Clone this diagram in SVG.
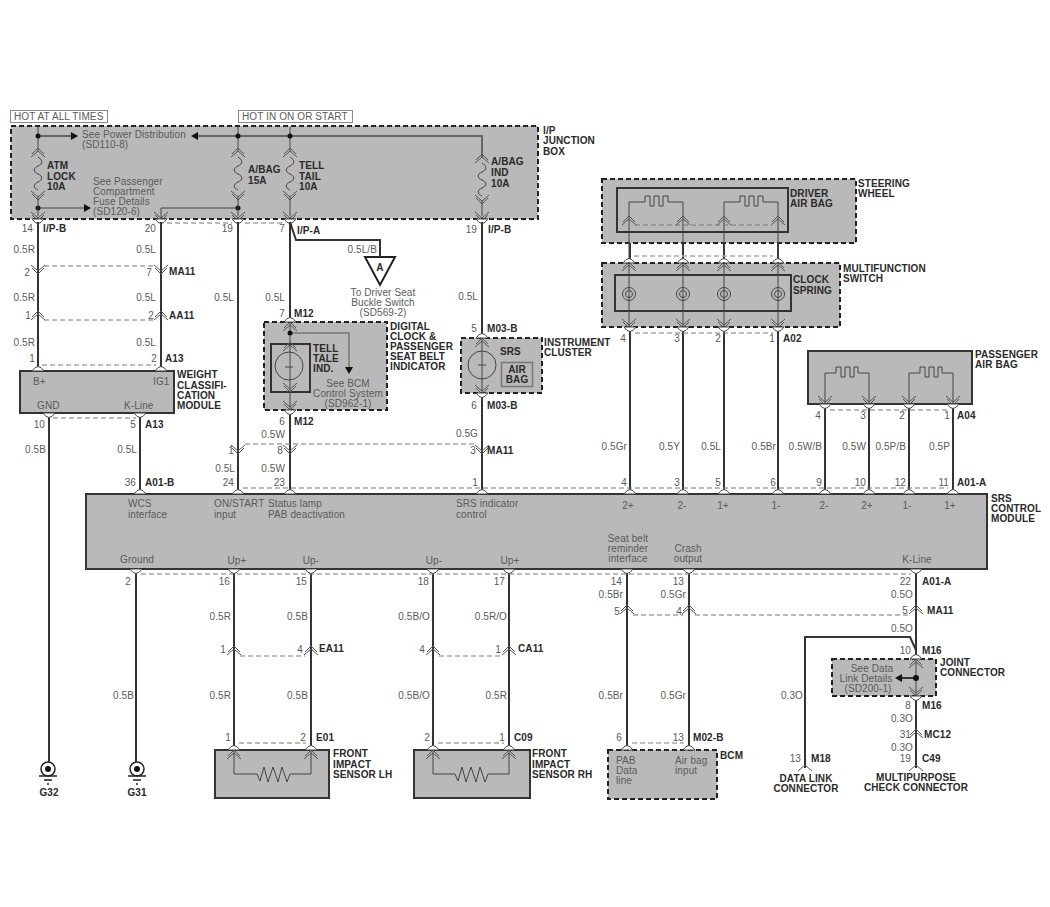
<svg xmlns="http://www.w3.org/2000/svg" width="1050" height="907" viewBox="0 0 1050 907">
<style>
text{font-family:"Liberation Sans",Arial,sans-serif;font-size:10px;fill:#5a5a5a;letter-spacing:.1px}
.b{font-weight:bold;fill:#2a2a2a}
.r{text-anchor:end}
.c{text-anchor:middle}
.box{fill:#b9b9b9;stroke:#333;stroke-width:2}
.dbox{fill:#b9b9b9;stroke:#222;stroke-width:2;stroke-dasharray:5 3}
.inner{fill:none;stroke:#333;stroke-width:2}
.w{fill:none;stroke:#333;stroke-width:2}
.th{fill:none;stroke:#444;stroke-width:1}
.g{fill:none;stroke:#777;stroke-width:1.5}
.bus{fill:none;stroke:#666;stroke-width:2}
.d{fill:none;stroke:#777;stroke-width:1;stroke-dasharray:5 3}
.d2{fill:none;stroke:#aaa;stroke-width:1.5;stroke-dasharray:5 3}
.ch{fill:none;stroke:#555;stroke-width:1}
.tri{fill:#fff;stroke:#444;stroke-width:1}
.dot{fill:#111}
</style>
<defs>
<g id="cd"><path class="ch" d="M-7,-5 L0,1 L7,-5"/><path class="ch" d="M-6,-2 L0,4 L6,-2"/></g>
<g id="cu"><path class="ch" d="M-7,5 L0,-1 L7,5"/><path class="ch" d="M-6,2 L0,-4 L6,2"/></g>
<path id="tu" class="tri" d="M-6,0 Q0,-9 6,0 Z"/>
<path id="td" class="tri" d="M-6,0 Q0,9 6,0 Z"/>
<path id="fuse" class="th" d="M0,0 C5,3 5,7 0,9 C-5,11 -5,15 0,17 C5,19 5,23 0,25 C-5,27 -5,31 0,33"/>
<path id="sq1" class="th" d="M0,0 H16 V-6 H21 V4 H25 V-6 H30 V4 H34 V-6 H39 V0 H54"/>
<path id="sq2" class="th" d="M0,0 H11 V-6 H16 V4 H20 V-6 H25 V4 H29 V-6 H33 V0 H44"/>
<g id="sp"><circle class="th" r="6.5"/><circle class="th" r="3.5"/></g>
<path id="res" class="th" d="M0,0 L3,7 L7,-7 L11,8 L16,-7 L21,8 L25,-7 L30,8 L33,0"/>
<g id="gnd"><circle r="7" fill="#fff" stroke="#222" stroke-width="1.5"/><circle r="3" fill="#111"/><path fill="none" stroke="#222" stroke-width="1.5" d="M-9,7 H9 M-4,11 H4 M-1,15 H1"/></g>
<path id="al" fill="#111" d="M0,0 L7,-4 L7,4 Z"/>
<path id="ar" fill="#111" d="M0,0 L-7,-4 L-7,4 Z"/>
</defs>

<g id="hot-at-all-times"><rect x="10.5" y="110.5" width="97" height="12" fill="#fff" stroke="#888"/><text x="14" y="120">HOT AT ALL TIMES</text></g>
<g id="hot-in-on-or-start"><rect x="238.500" y="110.500" width="114" height="12" fill="#fff" stroke="#888"/><text x="242" y="120">HOT IN ON OR START</text></g>

<g id="ip-junction-box">
<rect class="dbox" x="11" y="126" width="527" height="93"/>
<text x="82" y="137.500">See Power Distribution</text><text x="82" y="148">(SD110-8)</text>
<text x="93" y="184.500">See Passenger</text><text x="93" y="194.500">Compartment</text><text x="93" y="204.500">Fuse Details</text><text x="93" y="214.500">(SD120-6)</text>
<text class="b" x="47" y="169">ATM</text><text class="b" x="47" y="180">LOCK</text><text class="b" x="47" y="190">10A</text>
<text class="b" x="248" y="173">A/BAG</text><text class="b" x="248" y="183.500">15A</text>
<text class="b" x="299" y="169">TELL</text><text class="b" x="299" y="180">TAIL</text><text class="b" x="299" y="190">10A</text>
<text class="b" x="491" y="165">A/BAG</text><text class="b" x="491" y="176">IND</text><text class="b" x="491" y="187">10A</text>
<text class="b" x="543" y="133.500">I/P</text><text class="b" x="543" y="144">JUNCTION</text><text class="b" x="543" y="154.500">BOX</text>
</g>

<g id="weight-classification-module">
<rect class="box" x="20" y="371" width="154" height="42"/>
<text x="33" y="384.500">B+</text><text x="153" y="384.500">IG1</text><text x="37" y="409">GND</text><text x="124" y="409">K-Line</text>
<text class="b" x="177" y="377.500">WEIGHT</text><text class="b" x="177" y="388.500">CLASSIFI-</text><text class="b" x="177" y="398.500">CATION</text><text class="b" x="177" y="408.500">MODULE</text>
</g>

<g id="digital-clock">
<rect class="dbox" x="264" y="322" width="123" height="88"/>
<rect class="inner" x="271" y="344" width="39" height="48"/>
<circle class="th" cx="289" cy="366" r="14"/>
<path class="th" d="M285,367 H293"/>
<text class="b" x="313" y="351.500">TELL</text><text class="b" x="313" y="361.500">TALE</text><text class="b" x="313" y="371.500">IND.</text>
<text class="c" x="348" y="386.500">See BCM</text><text class="c" x="348" y="396.500">Control System</text><text class="c" x="348" y="406.500">(SD962-1)</text>
<text class="b" x="390" y="329.500">DIGITAL</text><text class="b" x="390" y="339.500">CLOCK &amp;</text><text class="b" x="390" y="350">PASSENGER</text><text class="b" x="390" y="360">SEAT BELT</text><text class="b" x="390" y="370">INDICATOR</text>
</g>

<g id="instrument-cluster">
<rect class="dbox" x="461" y="338" width="81" height="55"/>
<circle class="th" cx="482" cy="365" r="14"/>
<path class="th" d="M478,365 H486"/>
<text class="b" x="500" y="355">SRS</text>
<rect x="501.500" y="362.500" width="31" height="24" fill="none" stroke="#777" stroke-width="1.500"/>
<text class="b c" x="517" y="373">AIR</text><text class="b c" x="517" y="383">BAG</text>
<text class="b" x="544" y="345.500">INSTRUMENT</text><text class="b" x="544" y="355.500">CLUSTER</text>
</g>

<g id="steering-wheel">
<rect class="dbox" x="602" y="179" width="254" height="64"/>
<rect class="inner" x="617" y="188" width="171" height="44"/>
<use href="#sq1" x="629" y="202"/><use href="#sq1" x="724" y="202"/>
<text class="b" x="790" y="196.500">DRIVER</text><text class="b" x="790" y="206.500">AIR BAG</text>
<text class="b" x="858" y="186.500">STEERING</text><text class="b" x="858" y="196.500">WHEEL</text>
</g>

<g id="multifunction-switch">
<rect class="dbox" x="602" y="263" width="238" height="64"/>
<rect class="inner" x="615" y="275" width="176" height="36"/>
<use href="#sp" x="629" y="294"/><use href="#sp" x="683" y="294"/><use href="#sp" x="724" y="294"/><use href="#sp" x="778" y="294"/>
<text class="b" x="793" y="282.500">CLOCK</text><text class="b" x="793" y="293.500">SPRING</text>
<text class="b" x="843" y="271.500">MULTIFUNCTION</text><text class="b" x="843" y="281.500">SWITCH</text>
</g>

<g id="passenger-air-bag">
<rect class="box" x="808" y="351" width="164" height="53"/>
<use href="#sq2" x="825" y="373"/><use href="#sq2" x="909" y="373"/>
<text class="b" x="975" y="357.500">PASSENGER</text><text class="b" x="975" y="367.500">AIR BAG</text>
</g>

<g id="srs-control-module">
<rect class="box" x="86" y="494" width="901" height="75"/>
<text x="128" y="507">WCS</text><text x="128" y="517.500">interface</text>
<text x="214" y="507">ON/START</text><text x="214" y="517.500">input</text>
<text x="268" y="507">Status lamp</text><text x="268" y="517.500">PAB deactivation</text>
<text x="456" y="507">SRS indicator</text><text x="456" y="517.500">control</text>
<text class="c" x="628" y="508.500">2+</text><text class="c" x="682" y="508.500">2-</text><text class="c" x="723" y="508.500">1+</text><text class="c" x="776" y="508.500">1-</text><text class="c" x="824" y="508.500">2-</text><text class="c" x="867" y="508.500">2+</text><text class="c" x="907" y="508.500">1-</text><text class="c" x="950" y="508.500">1+</text>
<text class="c" x="137" y="562.500">Ground</text><text class="c" x="237" y="564">Up+</text><text class="c" x="311" y="564">Up-</text><text class="c" x="434" y="564">Up-</text><text class="c" x="510" y="564">Up+</text>
<text class="c" x="628" y="541.500">Seat belt</text><text class="c" x="628" y="552">reminder</text><text class="c" x="628" y="562">interface</text>
<text class="c" x="688" y="552">Crash</text><text class="c" x="688" y="562">output</text>
<text class="c" x="917" y="562.500">K-Line</text>
<text class="b" x="991" y="501.500">SRS</text><text class="b" x="991" y="512">CONTROL</text><text class="b" x="991" y="522">MODULE</text>
</g>

<g id="front-impact-sensor-lh">
<rect class="box" x="215" y="750" width="114" height="48"/>
<use href="#res" x="257" y="774"/>
<text class="b" x="333" y="757">FRONT</text><text class="b" x="333" y="767.500">IMPACT</text><text class="b" x="333" y="778">SENSOR LH</text>
</g>
<g id="front-impact-sensor-rh">
<rect class="box" x="414" y="750" width="116" height="48"/>
<use href="#res" x="455" y="774"/>
<text class="b" x="532" y="757">FRONT</text><text class="b" x="532" y="767.500">IMPACT</text><text class="b" x="532" y="778">SENSOR RH</text>
</g>
<g id="bcm">
<rect class="dbox" x="608" y="750" width="109" height="49"/>
<text x="616" y="763.500">PAB</text><text x="616" y="774">Data</text><text x="616" y="784">line</text>
<text x="675" y="763.500">Air bag</text><text x="675" y="774">input</text>
<text class="b" x="720" y="758.500">BCM</text>
</g>
<g id="joint-connector">
<rect class="dbox" x="832" y="659" width="104" height="37"/>
<text class="c" x="872" y="671.500">See Data</text><text class="c" x="866" y="681.500">Link Details</text><text class="c" x="868" y="692">(SD200-1)</text>
<text class="b" x="940" y="665.500">JOINT</text><text class="b" x="940" y="675.500">CONNECTOR</text>
</g>
<g id="buckle-switch-ref">
<path d="M365,257 H395 L380,285 Z" fill="#fff" stroke="#222" stroke-width="2"/>
<text class="b c" x="380" y="271">A</text>
<text class="c" x="383" y="296">To Driver Seat</text><text class="c" x="383" y="306">Buckle Switch</text><text class="c" x="383" y="316">(SD569-2)</text>
</g>
<g id="ground-g32"><use href="#gnd" x="48" y="769"/><text class="b c" x="49" y="795.500">G32</text></g>
<g id="ground-g31"><use href="#gnd" x="137" y="769"/><text class="b c" x="137" y="795.500">G31</text></g>
<g id="data-link-connector"><text class="b c" x="806" y="781.500">DATA LINK</text><text class="b c" x="806" y="791.500">CONNECTOR</text></g>
<g id="multipurpose-check-connector"><text class="b c" x="916" y="780.500">MULTIPURPOSE</text><text class="b c" x="916" y="790.500">CHECK CONNECTOR</text></g>

<g id="connectors">
<path class="bus" d="M38,136 H72 M198,136 H482 V157"/>
<path class="th" d="M38,127 V152 M238,127 V152 M290,127 V152"/>
<path class="th" d="M38,208 H84 M238,208 H161 V219"/>
<use href="#ar" x="78" y="136"/><use href="#al" x="191" y="136"/><use href="#ar" x="91" y="208"/>
<circle class="dot" cx="38" cy="136" r="2.500"/><circle class="dot" cx="238" cy="136" r="2.500"/><circle class="dot" cx="290" cy="136" r="2.500"/>
<circle class="dot" cx="38" cy="208" r="2.500"/><circle class="dot" cx="238" cy="208" r="2.500"/>
<use href="#cu" x="38" y="152"/><use href="#cu" x="238" y="152"/><use href="#cu" x="290" y="152"/><use href="#cu" x="482" y="158"/>
<use href="#fuse" x="38" y="157"/><use href="#fuse" x="238" y="157"/><use href="#fuse" x="290" y="157"/><use href="#fuse" x="482" y="163"/>
<use href="#cd" x="38" y="196"/><use href="#cd" x="238" y="196"/><use href="#cd" x="290" y="196"/><use href="#cd" x="482" y="200"/>
<path class="th" d="M38,196 V216 M238,196 V216 M290,196 V216 M482,200 V216"/>
<use href="#cd" x="38" y="217"/><use href="#cd" x="161" y="217"/><use href="#cd" x="238" y="217"/><use href="#cd" x="290" y="217"/><use href="#cd" x="482" y="217"/>
<use href="#td" x="38" y="219"/><use href="#td" x="161" y="219"/><use href="#td" x="238" y="219"/><use href="#td" x="290" y="219"/><use href="#td" x="482" y="219"/>
<path class="d" d="M167,223 H232 M245,223 H284"/>

<path class="w" d="M38,222 V371 M161,222 V371 M238,222 V494 M290,222 V322 M290,410 V494 M482,222 V338 M482,393 V494"/>
<path class="w" d="M49,413 V762 M140,413 V494 M136,569 V762 M234,569 V750 M311,569 V750 M433,569 V750 M509,569 V750 M627,569 V750 M689,569 V750 M916,569 V659 M916,696 V768 M805,768 V637 H910 L916,650"/>
<path class="w" d="M630,243 V263 M683,243 V263 M724,243 V263 M778,243 V263 M630,327 V494 M683,327 V494 M724,327 V494 M778,327 V494 M825,404 V494 M869,404 V494 M909,404 V494 M953,404 V494"/>
<path class="w" d="M290,222 L296,240 H380 V257"/>
<path class="th" d="M629,202 V263 M683,202 V263 M724,202 V263 M778,202 V263 M629,263 V327 M683,263 V327 M724,263 V327 M778,263 V327"/>
<path class="th" d="M825,373 V404 M869,373 V404 M909,373 V404 M953,373 V404"/>
<path class="th" d="M234,750 V774 H257 M311,750 V774 H290 M433,750 V774 H455 M509,750 V774 H488"/>
<path class="th" d="M290,322 V410 M482,338 V393 M916,659 V696"/>
<path class="g" d="M290,333 H349 V369"/>
<path fill="#111" d="M345,367 H353 L349,374 Z"/>
<circle class="dot" cx="290" cy="333" r="2.500"/>
<use href="#al" x="895" y="678"/><path class="w" d="M902,678 H916"/><circle class="dot" cx="916" cy="678" r="3"/>

<use href="#cd" x="38" y="270"/><use href="#cd" x="161" y="270"/><path class="d" d="M44,266 H155"/>
<use href="#cu" x="38" y="315"/><use href="#cu" x="161" y="315"/><path class="d" d="M44,320 H155"/>
<use href="#tu" x="38" y="371"/><use href="#tu" x="161" y="371"/><path class="d" d="M42,365 H156"/>
<use href="#td" x="49" y="413"/><use href="#td" x="140" y="413"/><path class="d" d="M53,418 H136"/>
<use href="#tu" x="140" y="494"/>
<use href="#tu" x="238" y="494"/><use href="#tu" x="290" y="494"/><use href="#tu" x="482" y="494"/><use href="#tu" x="630" y="494"/><use href="#tu" x="683" y="494"/><use href="#tu" x="724" y="494"/><use href="#tu" x="778" y="494"/><use href="#tu" x="825" y="494"/><use href="#tu" x="869" y="494"/><use href="#tu" x="909" y="494"/><use href="#tu" x="953" y="494"/>
<path class="d" d="M243,488 H948"/>
<use href="#cd" x="238" y="450"/><use href="#cd" x="290" y="450"/><use href="#cd" x="482" y="450"/><path class="d" d="M245,444 H476"/>
<use href="#tu" x="290" y="322"/>
<use href="#cu" x="290" y="326"/><use href="#cu" x="290" y="346"/><use href="#cd" x="290" y="388"/><use href="#cd" x="290" y="406"/><use href="#td" x="290" y="410"/>
<use href="#tu" x="482" y="338"/><use href="#cu" x="482" y="342"/><use href="#cd" x="482" y="390"/><use href="#td" x="482" y="393"/>
<use href="#cu" x="629" y="220"/><use href="#cu" x="683" y="220"/><use href="#cu" x="724" y="220"/><use href="#cu" x="778" y="220"/><path class="d" d="M635,225 H772"/>
<use href="#tu" x="629" y="263"/><use href="#tu" x="683" y="263"/><use href="#tu" x="724" y="263"/><use href="#tu" x="778" y="263"/><use href="#cu" x="629" y="266"/><use href="#cu" x="683" y="266"/><use href="#cu" x="724" y="266"/><use href="#cu" x="778" y="266"/><path class="d2" d="M634,256 H773"/>
<use href="#cd" x="629" y="324"/><use href="#cd" x="683" y="324"/><use href="#cd" x="724" y="324"/><use href="#cd" x="778" y="324"/><use href="#td" x="630" y="327"/><use href="#td" x="683" y="327"/><use href="#td" x="724" y="327"/><use href="#td" x="778" y="327"/><path class="d" d="M635,333 H773"/>
<use href="#cd" x="825" y="401"/><use href="#cd" x="869" y="401"/><use href="#cd" x="909" y="401"/><use href="#cd" x="953" y="401"/><use href="#td" x="825" y="404"/><use href="#td" x="869" y="404"/><use href="#td" x="909" y="404"/><use href="#td" x="953" y="404"/><path class="d" d="M830,410 H948"/>
<use href="#td" x="136" y="569"/><use href="#td" x="234" y="569"/><use href="#td" x="311" y="569"/><use href="#td" x="433" y="569"/><use href="#td" x="509" y="569"/><use href="#td" x="627" y="569"/><use href="#td" x="689" y="569"/><use href="#td" x="916" y="569"/><path class="d" d="M141,574 H911"/>
<use href="#cu" x="234" y="650"/><use href="#cu" x="311" y="650"/><path class="d2" d="M240,656 H305"/>
<use href="#cu" x="433" y="650"/><use href="#cu" x="509" y="650"/><path class="d2" d="M439,656 H503"/>
<use href="#cu" x="627" y="609"/><use href="#cu" x="689" y="609"/><use href="#cu" x="916" y="609"/><path class="d" d="M633,615 H683 M695,615 H910"/>
<use href="#tu" x="234" y="750"/><use href="#tu" x="311" y="750"/><use href="#cu" x="234" y="754"/><use href="#cu" x="311" y="754"/><path class="d" d="M239,743 H306"/>
<use href="#tu" x="433" y="750"/><use href="#tu" x="509" y="750"/><use href="#cu" x="433" y="754"/><use href="#cu" x="509" y="754"/><path class="d" d="M438,743 H504"/>
<use href="#tu" x="627" y="750"/><use href="#tu" x="689" y="750"/><path class="d2" d="M632,743 H684"/>
<use href="#tu" x="916" y="659"/><use href="#cu" x="916" y="663"/><use href="#cd" x="916" y="692"/><use href="#td" x="916" y="696"/>
<use href="#cu" x="916" y="733"/>
<path class="ch" d="M909,771 L916,765 L923,771 M798,771 L805,765 L812,771"/>

<g class="pins">
<text class="r" x="33" y="232">14</text><text class="r" x="156" y="232">20</text><text class="r" x="233" y="232">19</text><text class="r" x="285" y="232">7</text><text class="r" x="477" y="233">19</text>
<text class="r" x="30" y="276">2</text><text class="r" x="152" y="276">7</text><text class="r" x="31" y="319">1</text><text class="r" x="154" y="319">2</text>
<text class="r" x="35" y="362">1</text><text class="r" x="157" y="362">2</text>
<text class="r" x="45" y="428">10</text><text class="r" x="136" y="428">5</text><text class="r" x="136" y="486">36</text>
<text class="r" x="285" y="316.500">7</text><text class="r" x="285" y="425">6</text><text class="r" x="477" y="332">5</text><text class="r" x="477" y="409">6</text>
<text class="r" x="234" y="454">1</text><text class="r" x="283" y="454">8</text><text class="r" x="476" y="454">3</text>
<text class="r" x="234" y="486">24</text><text class="r" x="285" y="486">23</text><text class="r" x="478" y="486">1</text>
<text class="r" x="626" y="342">4</text><text class="r" x="680" y="342">3</text><text class="r" x="721" y="342">2</text><text class="r" x="775" y="342">1</text>
<text class="r" x="821" y="419">4</text><text class="r" x="866" y="419">3</text><text class="r" x="905" y="419">2</text><text class="r" x="950" y="419">1</text>
<text class="r" x="627" y="486">4</text><text class="r" x="680" y="486">3</text><text class="r" x="721" y="486">5</text><text class="r" x="776" y="486">6</text><text class="r" x="822" y="486">9</text><text class="r" x="866" y="486">10</text><text class="r" x="906" y="486">12</text><text class="r" x="949" y="486">11</text>
<text class="r" x="131" y="584.500">2</text><text class="r" x="230" y="584.500">16</text><text class="r" x="307" y="584.500">15</text><text class="r" x="429" y="584.500">18</text><text class="r" x="505" y="584.500">17</text><text class="r" x="622" y="584.500">14</text><text class="r" x="684" y="584.500">13</text><text class="r" x="911" y="584.500">22</text>
<text class="r" x="620" y="615">5</text><text class="r" x="682" y="615">4</text><text class="r" x="908" y="614">5</text>
<text class="r" x="226" y="653">1</text><text class="r" x="303" y="653">4</text><text class="r" x="425" y="653">4</text><text class="r" x="501" y="653">1</text>
<text class="r" x="231" y="741">1</text><text class="r" x="306" y="741">2</text><text class="r" x="430" y="741">2</text><text class="r" x="505" y="741">1</text><text class="r" x="622" y="741">6</text><text class="r" x="684" y="741">13</text>
<text class="r" x="911" y="653.500">10</text><text class="r" x="911" y="708.500">8</text><text class="r" x="911" y="737.500">31</text><text class="r" x="911" y="762">19</text><text class="r" x="801" y="762">13</text>
</g>
<g class="ids">
<text class="b" x="43" y="232">I/P-B</text><text class="b" x="297" y="234">I/P-A</text><text class="b" x="488" y="233">I/P-B</text>
<text class="b" x="169" y="275">MA11</text><text class="b" x="169" y="319">AA11</text><text class="b" x="165" y="362">A13</text><text class="b" x="145" y="428">A13</text><text class="b" x="145" y="486">A01-B</text>
<text class="b" x="294" y="316.500">M12</text><text class="b" x="294" y="425">M12</text><text class="b" x="487" y="332">M03-B</text><text class="b" x="487" y="409">M03-B</text><text class="b" x="487" y="454">MA11</text>
<text class="b" x="783" y="342">A02</text><text class="b" x="957" y="419">A04</text><text class="b" x="957" y="486">A01-A</text>
<text class="b" x="319" y="652">EA11</text><text class="b" x="518" y="652">CA11</text><text class="b" x="316" y="741">E01</text><text class="b" x="514" y="741">C09</text><text class="b" x="693" y="741">M02-B</text>
<text class="b" x="922" y="584.500">A01-A</text><text class="b" x="927" y="614">MA11</text><text class="b" x="922" y="653.500">M16</text><text class="b" x="922" y="708.500">M16</text><text class="b" x="924" y="737.500">MC12</text><text class="b" x="922" y="762">C49</text><text class="b" x="811" y="762">M18</text>
</g>
<g class="labels">
<text class="r" x="35" y="253">0.5R</text><text class="r" x="156" y="253">0.5L</text><text class="r" x="35" y="301">0.5R</text><text class="r" x="156" y="301">0.5L</text><text class="r" x="35" y="345.500">0.5R</text><text class="r" x="156" y="345.500">0.5L</text>
<text class="r" x="234" y="301">0.5L</text><text class="r" x="285" y="301">0.5L</text><text class="r" x="478" y="300">0.5L</text><text class="r" x="377" y="253">0.5L/B</text>
<text class="r" x="46" y="453">0.5B</text><text class="r" x="137" y="453">0.5L</text>
<text class="r" x="285" y="437.500">0.5W</text><text class="r" x="478" y="437">0.5G</text><text class="r" x="235" y="472">0.5L</text><text class="r" x="285" y="472">0.5W</text>
<text class="r" x="627" y="450">0.5Gr</text><text class="r" x="680" y="450">0.5Y</text><text class="r" x="721" y="450">0.5L</text><text class="r" x="776" y="450">0.5Br</text><text class="r" x="822" y="450">0.5W/B</text><text class="r" x="866" y="450">0.5W</text><text class="r" x="906" y="450">0.5P/B</text><text class="r" x="950" y="450">0.5P</text>
<text class="r" x="231" y="619.500">0.5R</text><text class="r" x="308" y="619.500">0.5B</text><text class="r" x="430" y="619.500">0.5B/O</text><text class="r" x="507" y="619.500">0.5R/O</text>
<text class="r" x="623" y="598">0.5Br</text><text class="r" x="686" y="598">0.5Gr</text><text class="r" x="913" y="598">0.5O</text><text class="r" x="913" y="632">0.5O</text>
<text class="r" x="134" y="698.500">0.5B</text><text class="r" x="231" y="698.500">0.5R</text><text class="r" x="308" y="698.500">0.5B</text><text class="r" x="430" y="698.500">0.5B/O</text><text class="r" x="507" y="698.500">0.5R</text><text class="r" x="623" y="698.500">0.5Br</text><text class="r" x="686" y="698.500">0.5Gr</text><text class="r" x="803" y="698.500">0.3O</text>
<text class="r" x="913" y="722">0.3O</text><text class="r" x="913" y="750.500">0.3O</text>
</g>
</g>
</svg>
